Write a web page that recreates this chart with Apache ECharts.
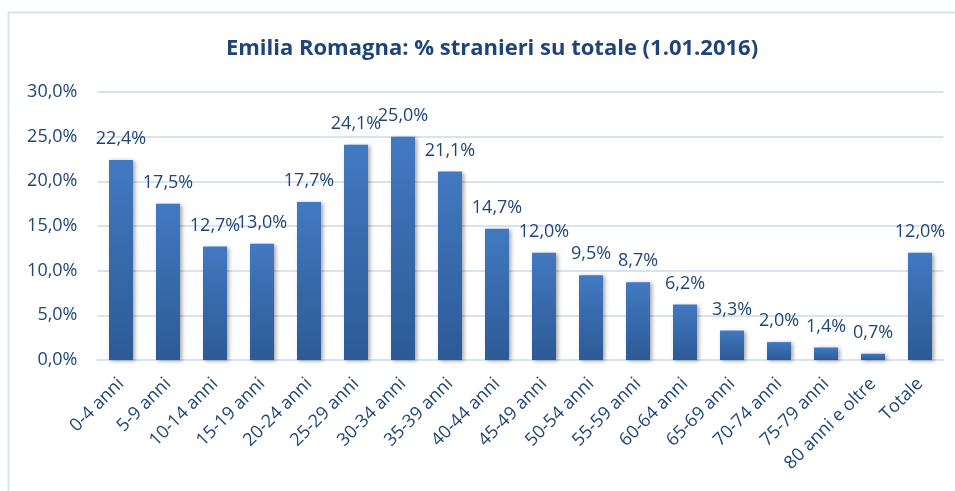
<!DOCTYPE html>
<html>
<head>
<meta charset="utf-8">
<script src="https://cdn.jsdelivr.net/npm/echarts@6/dist/echarts.min.js"></script>
<style>html,body{margin:0;padding:0;background:#fff;}#c{width:955px;height:491px;}</style>
</head>
<body>
<div id="c"></div>
<script>
var categories = ['0-4 anni','5-9 anni','10-14 anni','15-19 anni','20-24 anni','25-29 anni','30-34 anni','35-39 anni','40-44 anni','45-49 anni','50-54 anni','55-59 anni','60-64 anni','65-69 anni','70-74 anni','75-79 anni','80 anni e oltre','Totale'];
var values = [22.4,17.5,12.7,13.0,17.7,24.1,25.0,21.1,14.7,12.0,9.5,8.7,6.2,3.3,2.0,1.4,0.7,12.0];
var titleText = 'Emilia Romagna: % stranieri su totale (1.01.2016)';

function pct(v){ return v.toFixed(1).replace('.', ',') + '%'; }
var textColor = '#1F4677';
var chart = echarts.init(document.getElementById('c'));
chart.setOption({
  animation: false,
  textStyle: { fontFamily: 'Open Sans' },
  title: {
    text: titleText, left: 487, top: 33, textAlign: 'center',
    textStyle: { fontFamily: 'Open Sans', fontWeight: 'bold', fontSize: 22, color: '#1F4479' }
  },
  graphic: [{
    type: 'rect', silent: true,
    shape: { x: 8.5, y: 12.5, width: 960, height: 500 },
    style: { fill: 'none', stroke: '#D6E3F3', lineWidth: 2 }
  }],
  grid: { left: 97.5, right: 11.5, top: 92, bottom: 131, containLabel: false },
  xAxis: {
    type: 'category', data: categories,
    axisLine: { show: true, lineStyle: { color: '#D6E3F3', width: 2 } },
    axisTick: { show: false },
    axisLabel: { rotate: 45, margin: 21, interval: 0, fontSize: 18, color: textColor, fontFamily: 'Open Sans' }
  },
  yAxis: {
    type: 'value', min: 0, max: 30, interval: 5,
    axisLine: { show: false }, axisTick: { show: false },
    splitLine: { lineStyle: { color: '#D6E3F3', width: 2 } },
    axisLabel: { margin: 20, fontSize: 18, color: textColor, fontFamily: 'Open Sans', formatter: function(v){ return pct(v); } }
  },
  series: [{
    type: 'bar', data: values, barWidth: 24,
    itemStyle: {
      color: new echarts.graphic.LinearGradient(0,0,0,1,[{offset:0,color:'#4279C1'},{offset:1,color:'#2C5A95'}]),
      shadowColor: 'rgba(0,0,0,0.35)', shadowBlur: 4, shadowOffsetX: 2, shadowOffsetY: 1
    },
    label: {
      show: true, position: 'top', distance: 12, fontSize: 18, color: textColor, fontFamily: 'Open Sans',
      formatter: function(p){ return pct(p.value); }
    }
  }]
});
</script>
</body>
</html>
